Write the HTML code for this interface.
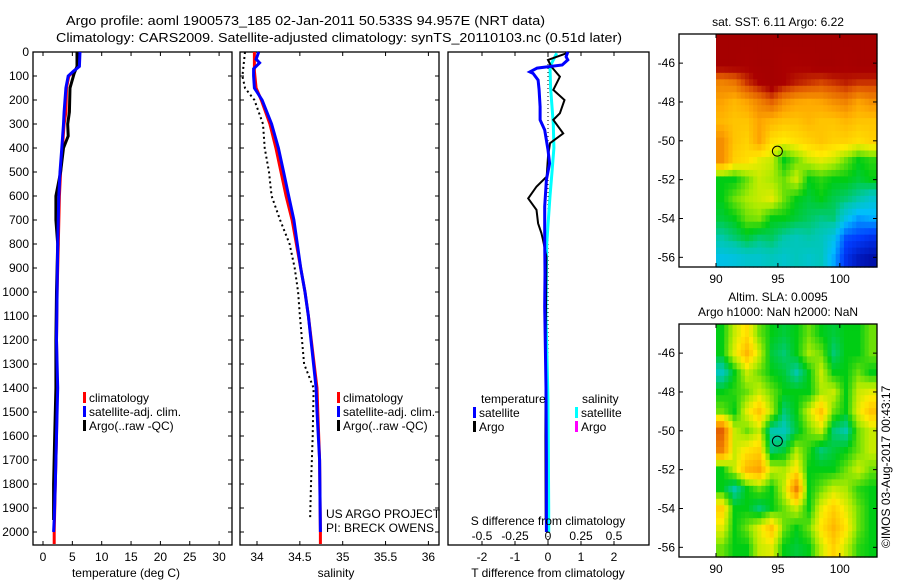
<!DOCTYPE html>
<html><head><meta charset="utf-8"><style>
html,body{margin:0;padding:0;background:#fff;}
svg{display:block;font-family:"Liberation Sans",sans-serif;}
</style></head><body>
<svg id="fig" width="900" height="580" viewBox="0 0 900 580" xmlns="http://www.w3.org/2000/svg">
<text x="66" y="25" font-size="13" textLength="479" lengthAdjust="spacingAndGlyphs">Argo profile: aoml 1900573_185 02-Jan-2011 50.533S 94.957E (NRT data)</text>
<text x="56" y="42" font-size="13" textLength="566" lengthAdjust="spacingAndGlyphs">Climatology: CARS2009. Satellite-adjusted climatology: synTS_20110103.nc (0.51d later)</text>
<g id="m1"></g>
<g id="m2"></g>
<g id="p1"></g>
<g id="p2"></g>
<g id="p3"></g>
<text x="0" y="0" font-size="12" transform="translate(890,548) rotate(-90)">©IMOS 03-Aug-2017 00:43:17</text>
</svg>
<script>
// ---------- data ----------
const tempClimDepth = [0,60,80,100,150,250,300,400,500,600,800,1000,1200,1400,1600,1800,2000,2050];
const tempClim      = [6.0,6.0,5.3,4.4,4.0,3.9,3.6,3.3,3.0,2.8,2.6,2.4,2.3,2.4,2.3,2.1,1.9,1.9];
const tempSatDepth  = [0,60,80,100,150,250,300,400,500,600,800,1000,1200,1400,1600,1800,1950,2000];
const tempSat       = [6.3,6.2,5.2,4.3,3.9,3.6,3.5,3.2,2.9,2.7,2.5,2.4,2.3,2.5,2.3,2.1,1.9,1.8];
const tempArgoDepth = [0,60,90,150,250,300,350,400,500,600,700,800,1000,1200,1400,1600,1800,1950];
const tempArgo      = [5.8,5.8,5.3,4.6,4.5,4.2,4.3,3.5,3.0,2.2,2.2,2.5,2.3,2.2,2.2,2.0,1.8,1.8];

const salClimDepth = [0,80,150,200,300,400,500,600,700,800,900,1000,1100,1400,1500,1700,2000,2050];
const salClim      = [33.97,33.97,33.99,34.05,34.15,34.22,34.28,34.34,34.41,34.46,34.51,34.56,34.6,34.7,34.71,34.73,34.74,34.74];
const salSatDepth  = [0,30,45,70,100,150,200,300,400,500,600,700,800,900,1000,1100,1400,1500,1700,2000];
const salSat       = [34.02,33.99,34.03,33.96,33.96,33.97,34.06,34.17,34.25,34.31,34.37,34.43,34.47,34.51,34.56,34.6,34.69,34.7,34.73,34.74];
const salArgoDepth = [0,100,150,200,300,400,500,600,700,800,900,1000,1100,1300,1400,1600,1800,1950];
const salArgo      = [33.86,33.83,33.86,33.97,34.07,34.09,34.14,34.17,34.27,34.38,34.44,34.48,34.5,34.55,34.66,34.65,34.63,34.62];

const dTSatDepth  = [0,20,33,54,67,83,89,117,158,228,283,325,408,464,533,644,783,922,1061,1400,1700,2000];
const dTSat       = [0.6,0.55,0.6,0.43,-0.33,-0.55,-0.45,-0.3,-0.27,-0.24,-0.24,-0.1,0.0,0.05,-0.05,-0.1,-0.1,-0.09,-0.1,-0.06,-0.05,-0.05];
const dTArgoDepth = [5,33,61,103,158,200,255,283,339,380,436,519,561,610,658,714,755,783,853,1200,1600,1950];
const dTArgo      = [0.57,0.0,0.1,0.36,0.16,0.5,0.36,0.16,0.46,0.06,0.0,-0.04,-0.35,-0.6,-0.35,-0.3,-0.2,-0.15,-0.05,-0.07,-0.08,-0.07];
const dSSatDepth  = [5,33,61,150,300,400,500,600,800,1100,1450,1900,2000];
const dSSat       = [0.066,0.04,0.015,0.02,0.04,0.045,0.03,0.015,-0.01,-0.015,0.0,0.005,0.005];

const depthTicks = [0,100,200,300,400,500,600,700,800,900,1000,1100,1200,1300,1400,1500,1600,1700,1800,1900,2000];
const tempTicks = [0,5,10,15,20,25,30];
const salTicks = [34,34.5,35,35.5,36];
const salTickLabels = ["34","34.5","35","35.5","36"];
const dTTicks = [-2,-1,0,1,2];
const dSTicks = [-0.5,-0.25,0,0.25,0.5];
const dSTickLabels = ["-0.5","-0.25","0","0.25","0.5"];
const lonTicks = [90,95,100];
const latTicks = [-46,-48,-50,-52,-54,-56];

// map values (0..1 on colormap), rows from north (-44.5) to south, cols 90..102 (cell centres)
const sstGrid = [
[1,1,1,1,1,1,1,1,1,1,1,1,1],
[1,1,0.97,1,1,0.95,0.96,0.97,1,1,0.97,1,1],
[0.8,0.82,0.9,0.95,1,0.95,0.92,0.9,0.88,0.9,0.92,0.9,0.9],
[0.75,0.72,0.75,0.8,0.85,0.78,0.75,0.74,0.75,0.78,0.8,0.75,0.78],
[0.72,0.7,0.7,0.75,0.72,0.7,0.7,0.72,0.7,0.7,0.72,0.7,0.7],
[0.78,0.7,0.68,0.75,0.66,0.64,0.66,0.68,0.7,0.68,0.68,0.66,0.68],
[0.78,0.68,0.66,0.62,0.6,0.5,0.55,0.6,0.62,0.6,0.55,0.5,0.52],
[0.5,0.5,0.55,0.6,0.58,0.55,0.6,0.5,0.52,0.5,0.5,0.48,0.5],
[0.5,0.55,0.58,0.6,0.62,0.55,0.5,0.48,0.5,0.47,0.45,0.42,0.38],
[0.48,0.5,0.55,0.56,0.5,0.5,0.48,0.46,0.44,0.45,0.35,0.28,0.3],
[0.42,0.45,0.48,0.45,0.46,0.42,0.4,0.42,0.4,0.35,0.2,0.18,0.15],
[0.35,0.36,0.38,0.38,0.4,0.38,0.4,0.38,0.4,0.3,0.15,0.08,0.05]];
const slaGrid = [
[0.5,0.6,0.66,0.55,0.5,0.48,0.5,0.55,0.5,0.48,0.5,0.5,0.55],
[0.5,0.62,0.72,0.6,0.48,0.45,0.5,0.58,0.55,0.45,0.5,0.5,0.55],
[0.4,0.5,0.6,0.55,0.5,0.48,0.42,0.5,0.6,0.5,0.5,0.55,0.5],
[0.5,0.52,0.55,0.6,0.55,0.5,0.5,0.5,0.58,0.6,0.5,0.6,0.62],
[0.55,0.5,0.62,0.7,0.58,0.45,0.5,0.6,0.7,0.55,0.5,0.62,0.7],
[0.85,0.6,0.55,0.6,0.42,0.4,0.48,0.55,0.6,0.45,0.42,0.55,0.6],
[0.8,0.6,0.65,0.68,0.45,0.48,0.58,0.52,0.45,0.48,0.5,0.55,0.6],
[0.5,0.6,0.72,0.75,0.6,0.58,0.65,0.5,0.5,0.5,0.55,0.6,0.55],
[0.5,0.42,0.5,0.55,0.5,0.6,0.8,0.5,0.55,0.6,0.58,0.52,0.5],
[0.68,0.5,0.5,0.45,0.5,0.55,0.6,0.5,0.62,0.68,0.62,0.55,0.5],
[0.62,0.5,0.55,0.62,0.7,0.55,0.5,0.55,0.65,0.72,0.65,0.55,0.5],
[0.55,0.5,0.5,0.6,0.62,0.5,0.48,0.5,0.6,0.68,0.6,0.52,0.5]];
const floatLon = 94.957, floatLat = -50.533;

// ---------- helpers ----------
const NS = "http://www.w3.org/2000/svg";
function mk(parent, tag, attrs){const e=document.createElementNS(NS,tag);for(const k in attrs)e.setAttribute(k,attrs[k]);parent.appendChild(e);return e;}
const yD = d => 52 + d*0.24;
const PT = 52, PB = 545;
const xT = t => 43 + t*5.87;
const xS = s => 257 + (s-34)*85.7;
const xDT = v => 548 + v*33;
const xDS = v => 548 + v*132;

function frame(g, x0, x1, name){
  const r = mk(g,'rect',{x:x0,y:PT,width:x1-x0,height:PB-PT,fill:'none',stroke:'#000','stroke-width':1.3});
  
  
  depthTicks.forEach(d=>{
    mk(g,'line',{x1:x0,x2:x0+4,y1:yD(d),y2:yD(d),stroke:'#000'});
    mk(g,'line',{x1:x1,x2:x1-4,y1:yD(d),y2:yD(d),stroke:'#000'});
  });
}
function xticks(g,vals,fx){vals.forEach(v=>{mk(g,'line',{x1:fx(v),x2:fx(v),y1:PT,y2:PT+4,stroke:'#000'});mk(g,'line',{x1:fx(v),x2:fx(v),y1:PB,y2:PB-4,stroke:'#000'});});}
function txt(g,x,y,s,anchor,size,name){const t=mk(g,'text',{x:x,y:y,'font-size':size||12,'text-anchor':anchor||'start'});t.textContent=s;return t;}
function stepLine(g,depths,vals,fx,color,w,name,dash){
  let d='';
  for(let i=0;i<depths.length;i++){
    d += (i?'L':'M')+fx(vals[i]).toFixed(1)+','+yD(depths[i]).toFixed(1);
  }
  const p=mk(g,'path',{d:d,fill:'none',stroke:color,'stroke-width':w});
  if(dash) p.setAttribute('stroke-dasharray',dash);
  
  
}
function legend(g,x,y,color,label,name){
  const r=mk(g,'rect',{x:x,y:y-10,width:3,height:11,fill:color});
  
  
  txt(g,x+6,y,label,'start',12,name);
}

// ---------- panel 1 ----------
const p1=document.getElementById('p1');
frame(p1,33,232,'temperature');
xticks(p1,tempTicks,xT);
depthTicks.forEach(d=>txt(p1,29,yD(d)+4,String(d),'end',12,'depth-tick-label'));
tempTicks.forEach(v=>txt(p1,xT(v),561,String(v),'middle',12,'temp-tick-label'));
txt(p1,126,577,'temperature (deg C)','middle',12,'temperature-axis-title');
stepLine(p1,tempClimDepth,tempClim,xT,'#f00',3,'temp-climatology-line');
stepLine(p1,tempArgoDepth,tempArgo,xT,'#000',3,'temp-argo-line');
stepLine(p1,tempSatDepth,tempSat,xT,'#00f',3,'temp-satellite-line');
legend(p1,83,402,'#f00','climatology','legend-climatology');
legend(p1,83,416,'#00f','satellite-adj. clim.','legend-satellite');
legend(p1,83,430,'#000','Argo(..raw -QC)','legend-argo');

// ---------- panel 2 ----------
const p2=document.getElementById('p2');
frame(p2,240,439,'salinity');
xticks(p2,salTicks,xS);
salTicks.forEach((v,i)=>txt(p2,xS(v),561,salTickLabels[i],'middle',12,'sal-tick-label'));
txt(p2,336,577,'salinity','middle',12,'salinity-axis-title');
stepLine(p2,salArgoDepth,salArgo,xS,'#000',2,'sal-argo-line','2,3');
stepLine(p2,salClimDepth,salClim,xS,'#f00',3,'sal-climatology-line');
stepLine(p2,salSatDepth,salSat,xS,'#00f',3,'sal-satellite-line');
legend(p2,337,402,'#f00','climatology','legend-climatology');
legend(p2,337,416,'#00f','satellite-adj. clim.','legend-satellite');
legend(p2,337,430,'#000','Argo(..raw -QC)','legend-argo');
txt(p2,326,518,'US ARGO PROJECT','start',12,'project-label');
txt(p2,326,532,'PI: BRECK OWENS','start',12,'pi-label');

// ---------- panel 3 ----------
const p3=document.getElementById('p3');
const fr=mk(p3,'rect',{x:448,y:PT,width:201,height:PB-PT,fill:'none',stroke:'#000','stroke-width':1.3});


xticks(p3,dTTicks,xDT);
const zl=mk(p3,'line',{x1:xDT(0),x2:xDT(0),y1:PT,y2:PB,stroke:'#000','stroke-dasharray':'1,3'});


stepLine(p3,dSSatDepth,dSSat,xDS,'#0ff',3,'sal-diff-satellite-line');
stepLine(p3,dTArgoDepth,dTArgo,xDT,'#000',2,'temp-diff-argo-line');
stepLine(p3,dTSatDepth,dTSat,xDT,'#00f',3,'temp-diff-satellite-line');
txt(p3,481,403,'temperature','start',12,'legend-temperature-heading');
legend(p3,473,417,'#00f','satellite','legend-temp-satellite');
legend(p3,473,431,'#000','Argo','legend-temp-argo');
txt(p3,582,403,'salinity','start',12,'legend-salinity-heading');
legend(p3,575,417,'#0ff','satellite','legend-sal-satellite');
legend(p3,575,431,'#f0f','Argo','legend-sal-argo');
txt(p3,548,525,'S difference from climatology','middle',12,'s-diff-axis-title');
dSTicks.forEach((v,i)=>txt(p3,xDS(v),540,dSTickLabels[i],'middle',12,'s-diff-tick-label'));
dTTicks.forEach(v=>txt(p3,xDT(v),561,String(v),'middle',12,'t-diff-tick-label'));
txt(p3,548,577,'T difference from climatology','middle',12,'t-diff-axis-title');

// ---------- maps ----------
const cmapStops=[[0,0,0,140],[0.18,0,60,255],[0.32,0,190,255],[0.42,0,200,170],[0.5,0,205,20],[0.58,170,235,0],[0.64,255,235,0],[0.74,255,170,0],[0.86,225,90,0],[0.95,170,0,0],[1,165,0,0]];
function cmap(v){
  v=Math.max(0,Math.min(1,v));
  for(let i=1;i<cmapStops.length;i++){
    const a=cmapStops[i-1],b=cmapStops[i];
    if(v<=b[0]){const f=(v-a[0])/(b[0]-a[0]);
      return 'rgb('+[1,2,3].map(k=>Math.round(a[k]+(b[k]-a[k])*f)).join(',')+')';}
  }
  return 'rgb(165,0,0)';
}
function sample(grid,r,c){
  const R=grid.length,C=grid[0].length;
  r=Math.max(0,Math.min(R-1,r));c=Math.max(0,Math.min(C-1,c));
  const r0=Math.floor(r),c0=Math.floor(c),r1=Math.min(R-1,r0+1),c1=Math.min(C-1,c0+1);
  const fr=r-r0,fc=c-c0;
  return (grid[r0][c0]*(1-fc)+grid[r0][c1]*fc)*(1-fr)+(grid[r1][c0]*(1-fc)+grid[r1][c1]*fc)*fr;
}
function drawMap(g,top,grid,name,title1,title2){
  const left=679,right=877,bottom=top+233;
  const xL=lon=>716+(lon-90)*12.38;
  const yL=lat=>top+(-44.5-lat)*19.42;
  const sub=3;
  for(let ri=0;ri<grid.length*sub;ri++){
    for(let ci=0;ci<grid[0].length*sub;ci++){
      const r=(ri+0.5)/sub-0.5, c=(ci+0.5)/sub-0.5;
      const cell=mk(g,'rect',{x:xL(90+ci/sub).toFixed(2),y:yL(-44.5-ri/sub).toFixed(2),width:(12.38/sub+0.6).toFixed(2),height:(19.42/sub+0.6).toFixed(2),fill:cmap(sample(grid,r,c))});
      
      
    }
  }
  const f=mk(g,'rect',{x:left,y:top,width:right-left,height:bottom-top,fill:'none',stroke:'#000','stroke-width':1.3});
  
  
  latTicks.forEach(l=>{
    mk(g,'line',{x1:left,x2:left+4,y1:yL(l),y2:yL(l),stroke:'#000'});
    mk(g,'line',{x1:right,x2:right-4,y1:yL(l),y2:yL(l),stroke:'#000'});
    txt(g,675,yL(l)+4,String(l),'end',12,name+'-lat-label');
  });
  lonTicks.forEach(l=>{
    mk(g,'line',{x1:xL(l),x2:xL(l),y1:top,y2:top+4,stroke:'#000'});
    mk(g,'line',{x1:xL(l),x2:xL(l),y1:bottom,y2:bottom-4,stroke:'#000'});
    txt(g,xL(l),bottom+16,String(l),'middle',12,name+'-lon-label');
  });
  const c=mk(g,'ellipse',{cx:xL(floatLon),cy:yL(floatLat),rx:5,ry:5,fill:'none',stroke:'#000','stroke-width':1});
  
  
  if(title2){txt(g,778,top-23,title1,'middle',12,name+'-title');txt(g,778,top-8,title2,'middle',12,name+'-subtitle');}
  else txt(g,778,top-8,title1,'middle',12,name+'-title');
}
drawMap(document.getElementById('m1'),34,sstGrid,'sst-map','sat. SST: 6.11 Argo: 6.22');
drawMap(document.getElementById('m2'),324,slaGrid,'sla-map','Altim. SLA: 0.0095','Argo h1000: NaN h2000: NaN');
</script>
</body></html>
